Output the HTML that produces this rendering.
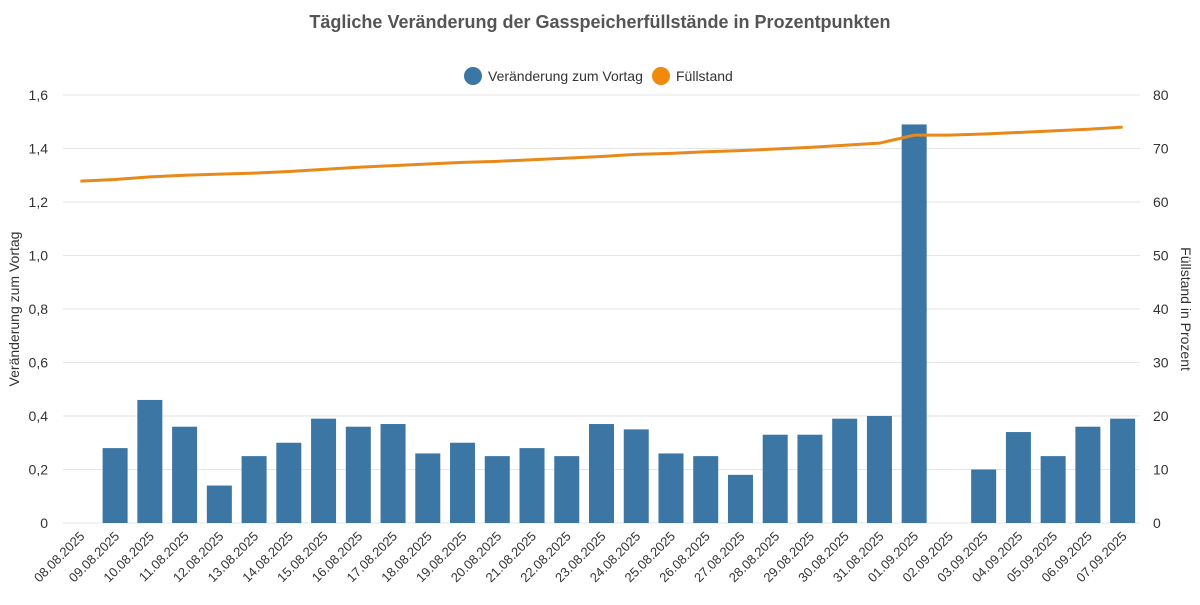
<!DOCTYPE html>
<html><head><meta charset="utf-8"><style>
body{margin:0;background:#fff;font-family:"Liberation Sans",sans-serif}
</style></head><body>
<svg id="chart" width="1200" height="600" xmlns="http://www.w3.org/2000/svg">
<text x="600" y="28" text-anchor="middle" font-size="18" font-weight="bold" fill="#555">Tägliche Veränderung der Gasspeicherfüllstände in Prozentpunkten</text>
<g>
<g><circle cx="473" cy="76" r="9" fill="#3b76a4"/><text x="488" y="81" font-size="14" fill="#333">Veränderung zum Vortag</text></g>
<g><circle cx="661" cy="76" r="9" fill="#f08a0c"/><text x="676" y="81" font-size="14" fill="#333">Füllstand</text></g>
</g>
<text transform="translate(19,309) rotate(-90)" text-anchor="middle" font-size="14" fill="#333">Veränderung zum Vortag</text>
<text transform="translate(1181,309) rotate(90)" text-anchor="middle" font-size="14" fill="#333">Füllstand in Prozent</text>
<g id="grid"></g><g id="bars"></g><g id="line"></g><g id="axes"></g>
</svg>
<script>
const categories=["08.08.2025","09.08.2025","10.08.2025","11.08.2025","12.08.2025","13.08.2025","14.08.2025","15.08.2025","16.08.2025","17.08.2025","18.08.2025","19.08.2025","20.08.2025","21.08.2025","22.08.2025","23.08.2025","24.08.2025","25.08.2025","26.08.2025","27.08.2025","28.08.2025","29.08.2025","30.08.2025","31.08.2025","01.09.2025","02.09.2025","03.09.2025","04.09.2025","05.09.2025","06.09.2025","07.09.2025"];
const changeValues=[null,0.28,0.46,0.36,0.14,0.25,0.30,0.39,0.36,0.37,0.26,0.30,0.25,0.28,0.25,0.37,0.35,0.26,0.25,0.18,0.33,0.33,0.39,0.40,1.49,null,0.20,0.34,0.25,0.36,0.39];
const levelValues=[63.9,64.2,64.7,65.0,65.2,65.4,65.7,66.1,66.5,66.8,67.1,67.4,67.6,67.9,68.2,68.5,68.9,69.1,69.4,69.6,69.9,70.2,70.6,71.0,72.5,72.5,72.7,73.0,73.3,73.6,74.0];
const leftTicks=["0","0,2","0,4","0,6","0,8","1,0","1,2","1,4","1,6"];
const rightTicks=["0","10","20","30","40","50","60","70","80"];
const NS="http://www.w3.org/2000/svg";
const X0=63,X1=1140,Y0=523,Y1=95;
const step=(X1-X0)/categories.length;
const xc=i=>X0+step*(i+0.5);
const yL=v=>Y0-(v/1.6)*(Y0-Y1);
const yR=v=>Y0-(v/80)*(Y0-Y1);
function mk(t,a,p){const e=document.createElementNS(NS,t);for(const k in a)e.setAttribute(k,a[k]);p.appendChild(e);return e;}
const grid=document.getElementById('grid'),axes=document.getElementById('axes');
leftTicks.forEach((t,i)=>{const y=yL(i*0.2);
const g=mk('line',{x1:X0,x2:X1,y1:y,y2:y,stroke:'#e6e6e6'},grid);


const l=mk('text',{x:48,y:y+5,'text-anchor':'end','font-size':14,fill:'#333'},axes);l.textContent=t;


const r=mk('text',{x:1153,y:y+5,'font-size':14,fill:'#333'},axes);r.textContent=rightTicks[i];


});
const bars=document.getElementById('bars');
changeValues.forEach((v,i)=>{if(v==null)return;
const b=mk('rect',{x:xc(i)-12.5,y:yL(v),width:25,height:Y0-yL(v),fill:'#3b76a4'},bars);


});
categories.forEach((c,i)=>{
const t=mk('text',{transform:`translate(${xc(i)+5},${Y0+14}) rotate(-45)`,'text-anchor':'end','font-size':13,fill:'#333'},axes);t.textContent=c;


});
const p=mk('path',{d:levelValues.map((v,i)=>(i?'L':'M')+xc(i)+','+yR(v)).join(''),fill:'none',stroke:'#e8891a','stroke-width':3,'stroke-linejoin':'round'},document.getElementById('line'));


</script>
</body></html>
